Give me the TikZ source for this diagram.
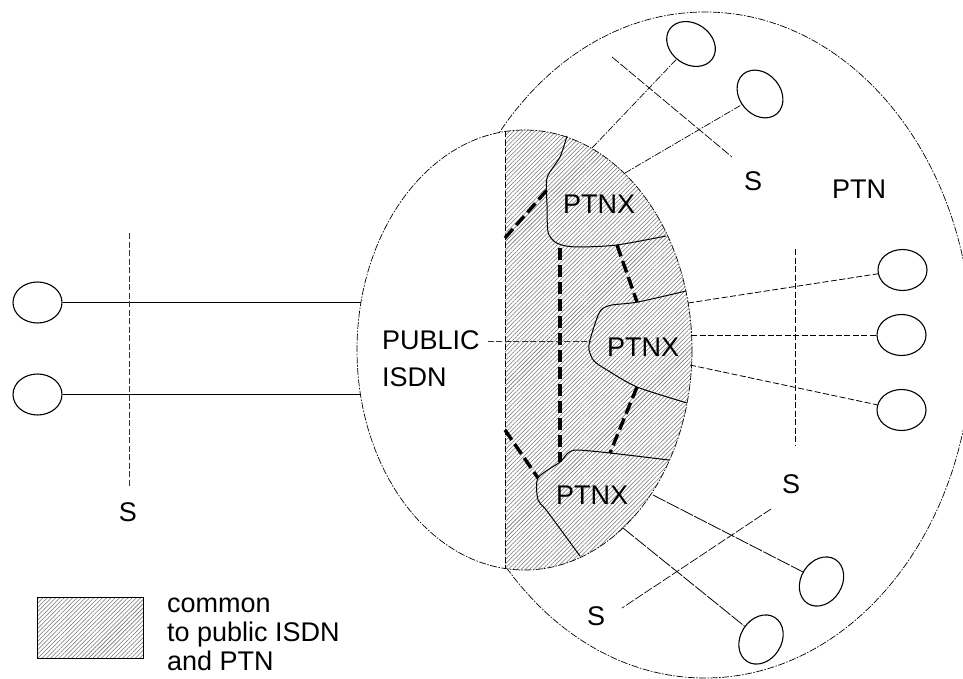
\documentclass[tikz,border=0pt]{standalone}
\usepackage{fontspec}
\setmainfont{Liberation Sans}
\usetikzlibrary{shapes.geometric,patterns.meta}
\begin{document}
\begin{tikzpicture}[x=1pt,y=-1pt,
  thinline/.style={line width=0.8pt},
  dashdot/.style={line width=0.7pt, dash pattern=on 7pt off 1.5pt on 1.5pt off 1.5pt},
  fdash/.style={line width=0.8pt, dash pattern=on 6pt off 2.5pt},
  sdash/.style={line width=0.7pt, dash pattern=on 9pt off 2pt},
  term/.style={draw, ellipse, minimum width=49pt, minimum height=41pt, inner sep=0pt, line width=1.1pt},
  hatch/.style={pattern={Lines[angle=45,distance=3pt,line width=0.55pt]}, pattern color=black!55},
  heavy/.style={line width=3.4pt, dash pattern=on 12pt off 5pt},
  ptnxb/.style={line width=1pt},
  lbl/.style={font=\fontsize{27}{30}\selectfont, inner sep=0pt}
]
\clip (0,0) rectangle (963,679);
\fill[white] (0,0) rectangle (963,679);

% PTN (big) ellipse
\draw[dashdot] (705,345) ellipse [x radius=267, y radius=333];
% public ISDN ellipse
\fill[white] (524.5,350) ellipse [x radius=167.5, y radius=220];
\begin{scope}
  \clip (524.5,350) ellipse [x radius=167.5, y radius=220];
  \fill[hatch] (505,100) rectangle (720,600);
\end{scope}
\draw[dashdot] (524.5,350) ellipse [x radius=167.5, y radius=220];
\coordinate (vb1) at (505,131.5);
\coordinate (vb2) at (505,568.5);
\draw[fdash] (vb1) -- (vb2);

% PTNX boundaries
\draw[ptnxb] plot[smooth, tension=0.45] coordinates {(567,136) (560,157) (547,178) (547,205) (548,232) (555,242) (566,246) (582,247) (617,245) (666,236)};
\draw[ptnxb] plot[smooth, tension=0.45] coordinates {(686,291) (638,302) (612,305) (602,309) (597,318) (590,340) (589,350) (594,361) (607,370) (637,387) (687,403)};
\draw[ptnxb] plot[smooth, tension=0.45] coordinates {(669,460) (610,453) (577,450) (568,453) (560,462) (538,478) (538,500) (547,511) (580,556)};

% heavy dashed links
\coordinate (h1a) at (505,238); \coordinate (h1b) at (547,190);
\coordinate (h2a) at (560,248); \coordinate (h2b) at (560,462);
\coordinate (h3a) at (617,245); \coordinate (h3b) at (637,302);
\coordinate (h4a) at (637,387); \coordinate (h4b) at (610,453);
\coordinate (h5a) at (505,430); \coordinate (h5b) at (538,478);
\draw[heavy] (h1a) -- (h1b);
\draw[heavy] (h2a) -- (h2b);
\draw[heavy] (h3a) -- (h3b);
\draw[heavy] (h4a) -- (h4b);
\draw[heavy] (h5a) -- (h5b);

% labels
\node[lbl] (ptnx1) at (599,204) {PTNX};
\node[lbl] (ptnx2) at (643,347) {PTNX};
\node[lbl] (ptnx3) at (592,495) {PTNX};
\node[lbl, font=\fontsize{27}{37}\selectfont, align=left, anchor=north west] (pub) at (382,330) {PUBLIC\\ISDN};
\coordinate (pubend) at (590,341);
\draw[fdash, black!80] (pub.east |- pubend) ++(8,0) coordinate (pubst) -- (pubend);
\node[lbl] (ptn) at (859,189) {PTN};

% left terminals
\node[term] (L1) at (37.5,302.5) {};
\node[term] (L2) at (37.5,394.5) {};
\coordinate (e1) at (361,302.5);
\coordinate (e2) at (360.5,394.5);
\draw[thinline] (L1) -- (e1);
\draw[thinline] (L2) -- (e2);
\coordinate (sl1) at (129,233);
\coordinate (sl2) at (129,487);
\draw[fdash, black!80] (sl1) -- (sl2);
\node[lbl] (sleft) at (128,512) {S};

% top terminals
\node[term, minimum width=52pt, rotate=-35] (T1) at (691,44) {};
\node[term, minimum width=52pt, rotate=-50] (T2) at (760,94) {};
\coordinate (c1) at (592,148);
\coordinate (c2) at (625,173);
\draw[dashdot] (c1) -- (T1);
\draw[dashdot] (c2) -- (T2);
\coordinate (st1) at (612,57);
\coordinate (st2) at (732,157);
\draw[sdash] (st1) -- (st2);
\node[lbl] (stop) at (753,181) {S};

% right terminals
\node[term] (A) at (902.5,270) {};
\node[term] (B) at (901.5,335) {};
\node[term] (C) at (901.5,410) {};
\coordinate (cA) at (688,303);
\coordinate (cB) at (691,335);
\coordinate (cC) at (690,365);
\draw[fdash] (cA) -- (A);
\draw[fdash] (cB) -- (B);
\draw[fdash] (cC) -- (C);
\coordinate (sr1) at (795,249);
\coordinate (sr2) at (795,445);
\draw[fdash] (sr1) -- (sr2);
\node[lbl] (sright) at (791,484) {S};

% bottom terminals
\node[term, minimum width=52pt, rotate=58] (D) at (821.5,581.5) {};
\node[term, minimum width=52pt, rotate=58] (E) at (761,639.5) {};
\coordinate (cD) at (653,495);
\coordinate (cE) at (623,528);
\draw[thinline, dash pattern=on 14pt off 1.5pt] (cD) -- (D);
\draw[thinline, dash pattern=on 14pt off 1.5pt] (cE) -- (E);
\coordinate (sb1) at (771,509);
\coordinate (sb2) at (622,608);
\draw[sdash] (sb1) -- (sb2);
\node[lbl] (sbot) at (596,616) {S};

% legend
\node[draw, thinline, hatch, minimum width=106pt, minimum height=61pt, inner sep=0pt] (leg) at (90,627.5) {};
\node[lbl, font=\fontsize{27}{29}\selectfont, align=left, anchor=north west] (legtxt) at (167,598) {common\\to public ISDN\\and PTN};
\end{tikzpicture}
\end{document}
